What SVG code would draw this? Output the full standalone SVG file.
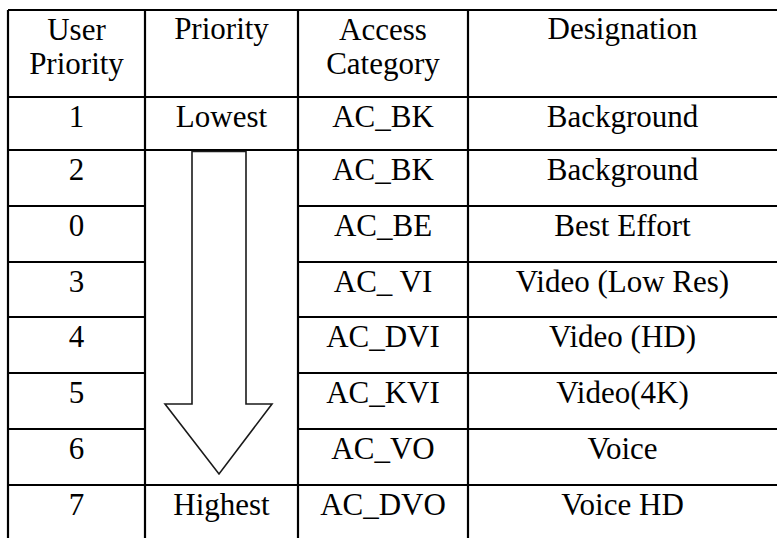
<svg xmlns="http://www.w3.org/2000/svg" width="777" height="538" viewBox="0 0 777 538">
<style>
.t{font-family:"Liberation Serif","Times New Roman",serif;font-size:31px;fill:#000;text-anchor:middle}
.g{stroke:#000;stroke-width:2.2;fill:none}
.arrow{fill:#fff;stroke:#1a1a1a;stroke-width:1.6;stroke-linejoin:miter}
</style>
<rect width="777" height="538" fill="#fff"/>
<g id="grid" class="g">
<line x1="8" y1="10" x2="777" y2="10"/>
<line x1="8" y1="10" x2="8" y2="538"/>
<line x1="145" y1="10" x2="145" y2="538"/>
<line x1="298" y1="10" x2="298" y2="538"/>
<line x1="468" y1="10" x2="468" y2="538"/>
<line x1="8" y1="97" x2="777" y2="97"/>
<line x1="8" y1="150" x2="777" y2="150"/>
<line x1="8" y1="485" x2="777" y2="485"/>
<path d="M8 206H145M298 206H777M8 262H145M298 262H777M8 317H145M298 317H777M8 373H145M298 373H777M8 429H145M298 429H777"/>
</g>
<g id="arrow">
<polygon class="arrow" points="192,151.5 246,151.5 246,404 272,404 219,474 165,404 192,404"/>
</g>
<g id="header">
<text class="t" x="76.5" y="39.5">User</text>
<text class="t" x="76.5" y="73.5">Priority</text>
<text class="t" x="221.5" y="38.5">Priority</text>
<text class="t" x="383" y="39.5">Access</text>
<text class="t" x="383" y="73.5">Category</text>
<text class="t" x="622.5" y="38.5">Designation</text>
</g>
<g id="row1">
<text class="t" x="76.5" y="127">1</text>
<text class="t" x="221.5" y="127">Lowest</text>
<text class="t" x="383" y="127">AC_BK</text>
<text class="t" x="622.5" y="127">Background</text>
</g>
<g id="row2">
<text class="t" x="76.5" y="180">2</text>
<text class="t" x="383" y="180">AC_BK</text>
<text class="t" x="622.5" y="180">Background</text>
</g>
<g id="row3">
<text class="t" x="76.5" y="236">0</text>
<text class="t" x="383" y="236">AC_BE</text>
<text class="t" x="622.5" y="236">Best Effort</text>
</g>
<g id="row4">
<text class="t" x="76.5" y="292">3</text>
<text class="t" x="383" y="292" xml:space="preserve">AC_ VI</text>
<text class="t" x="622.5" y="292">Video (Low Res)</text>
</g>
<g id="row5">
<text class="t" x="76.5" y="347">4</text>
<text class="t" x="383" y="347">AC_DVI</text>
<text class="t" x="622.5" y="347">Video (HD)</text>
</g>
<g id="row6">
<text class="t" x="76.5" y="403">5</text>
<text class="t" x="383" y="403">AC_KVI</text>
<text class="t" x="622.5" y="403">Video(4K)</text>
</g>
<g id="row7">
<text class="t" x="76.5" y="459">6</text>
<text class="t" x="383" y="459">AC_VO</text>
<text class="t" x="622.5" y="459">Voice</text>
</g>
<g id="row8">
<text class="t" x="76.5" y="515">7</text>
<text class="t" x="221.5" y="515">Highest</text>
<text class="t" x="383" y="515">AC_DVO</text>
<text class="t" x="622.5" y="515">Voice HD</text>
</g>
</svg>
